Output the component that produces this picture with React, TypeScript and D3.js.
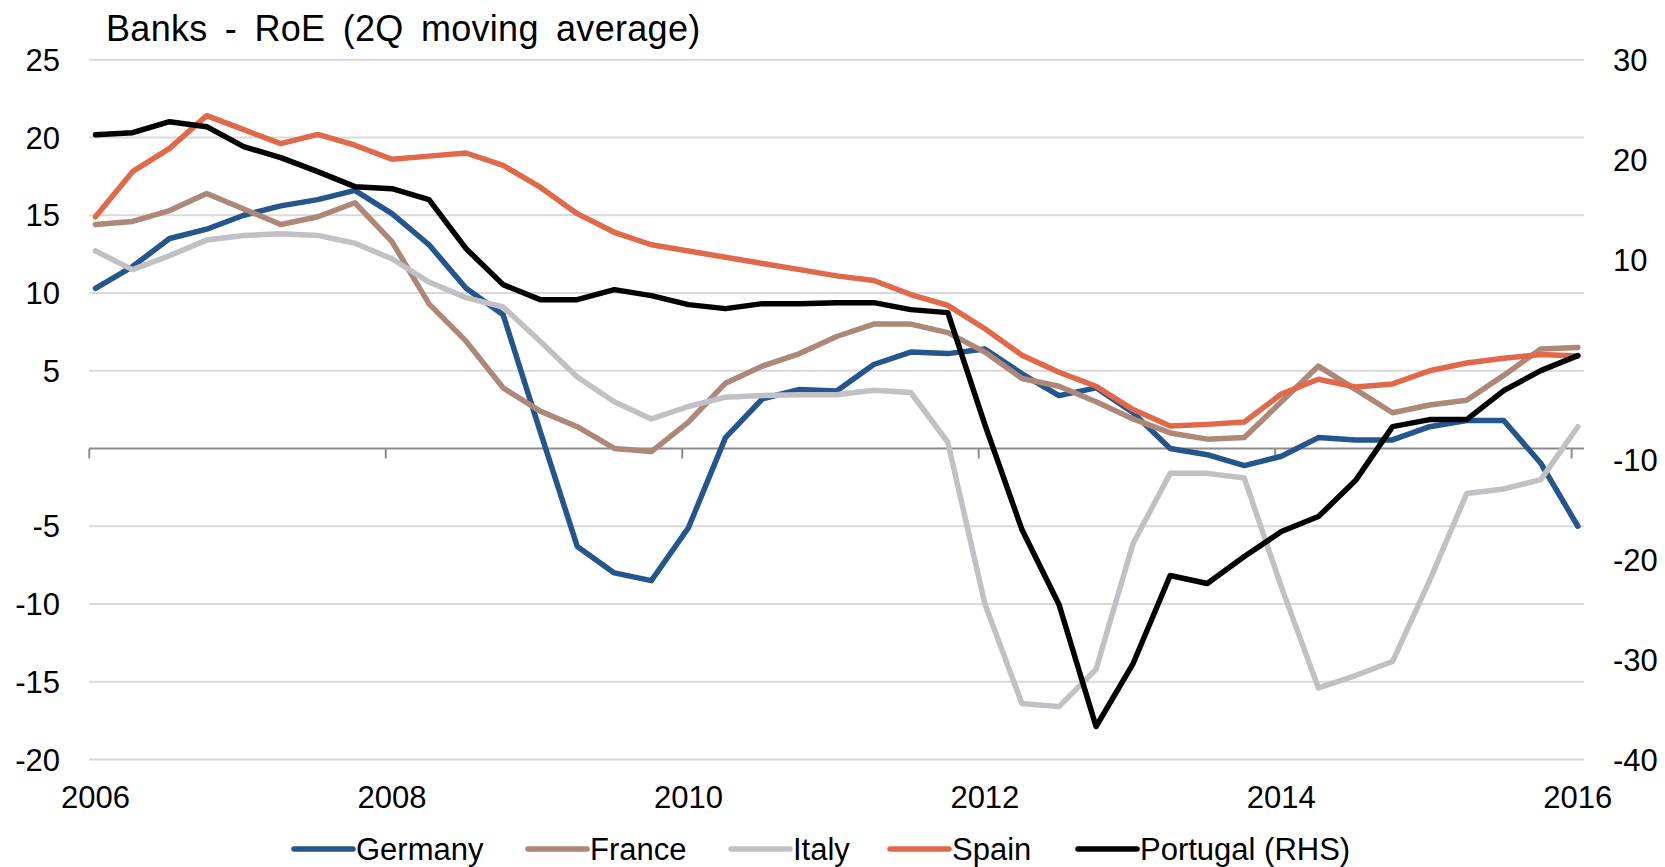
import React from "react";
import * as d3 from "d3";

const quarters = [
  "2006Q1","2006Q2","2006Q3","2006Q4","2007Q1","2007Q2","2007Q3","2007Q4",
  "2008Q1","2008Q2","2008Q3","2008Q4","2009Q1","2009Q2","2009Q3","2009Q4",
  "2010Q1","2010Q2","2010Q3","2010Q4","2011Q1","2011Q2","2011Q3","2011Q4",
  "2012Q1","2012Q2","2012Q3","2012Q4","2013Q1","2013Q2","2013Q3","2013Q4",
  "2014Q1","2014Q2","2014Q3","2014Q4","2015Q1","2015Q2","2015Q3","2015Q4",
  "2016Q1",
];

const germany = [10.3, 11.7, 13.5, 14.1, 15.0, 15.6, 16.0, 16.6, 15.1, 13.1, 10.3, 8.6, 1.1, -6.3, -8.0, -8.5, -5.1, 0.7, 3.2, 3.8, 3.7, 5.4, 6.2, 6.1, 6.4, 4.8, 3.4, 3.9, 2.3, 0.0, -0.4, -1.1, -0.5, 0.7, 0.55, 0.55, 1.4, 1.8, 1.8, -0.95, -5.0];
const france = [14.4, 14.6, 15.3, 16.4, 15.4, 14.4, 14.9, 15.8, 13.3, 9.3, 6.9, 3.9, 2.4, 1.4, 0.0, -0.2, 1.7, 4.2, 5.3, 6.1, 7.2, 8.0, 8.0, 7.45, 6.2, 4.5, 4.0, 3.0, 1.9, 1.0, 0.6, 0.7, 3.0, 5.3, 3.8, 2.3, 2.8, 3.1, 4.7, 6.4, 6.5];
const italy = [12.7, 11.5, 12.4, 13.4, 13.7, 13.8, 13.7, 13.2, 12.2, 10.7, 9.7, 9.1, 6.9, 4.6, 3.0, 1.9, 2.7, 3.3, 3.4, 3.45, 3.45, 3.75, 3.6, 0.4, -10.0, -16.4, -16.6, -14.2, -6.1, -1.6, -1.6, -1.9, -8.9, -15.4, -14.6, -13.7, -8.5, -2.9, -2.6, -2.0, 1.4];
const spain = [14.9, 17.8, 19.3, 21.4, 20.5, 19.6, 20.2, 19.5, 18.6, 18.8, 19.0, 18.2, 16.8, 15.1, 13.9, 13.1, 12.7, 12.3, 11.9, 11.5, 11.1, 10.8, 9.9, 9.2, 7.7, 6.0, 4.9, 4.0, 2.5, 1.45, 1.55, 1.7, 3.5, 4.45, 3.95, 4.15, 5.0, 5.5, 5.8, 6.05, 5.95];
const portugal = [22.5, 22.7, 23.8, 23.3, 21.3, 20.2, 18.8, 17.3, 17.1, 16.0, 11.1, 7.5, 6.0, 6.0, 7.0, 6.4, 5.5, 5.1, 5.6, 5.6, 5.7, 5.7, 5.0, 4.7, -6.5, -17.0, -24.5, -36.7, -30.4, -21.6, -22.4, -19.7, -17.2, -15.7, -12.1, -6.7, -6.0, -6.0, -3.1, -1.1, 0.4];

const leftTicks = [25, 20, 15, 10, 5, 0, -5, -10, -15, -20];
const rightTicks = [30, 20, 10, 0, -10, -20, -30, -40];
const yearLabels = ["2006", "2008", "2010", "2012", "2014", "2016"];

const seriesNames = ["Germany", "France", "Italy", "Spain", "Portugal (RHS)"];
const colors = ["#24568D", "#AD8878", "#C0C0C5", "#E0694A", "#000000"];

const W = 1665;
const H = 867;
const FONT = "'Liberation Sans', Arial, sans-serif";

// month index of the first month of a quarter, relative to Jan 2006
const monthIndex = (q: string) => (parseInt(q.slice(0, 4)) - 2006) * 12 + (parseInt(q.slice(5)) - 1) * 3;

export default function App() {
  const x = d3.scaleLinear().domain([0, 121]).range([89.3, 1584]);
  const yL = d3.scaleLinear().domain([-20, 25]).range([759.5, 59.7]);
  const yR = d3.scaleLinear().domain([-40, 30]).range([759.5, 59.7]);

  const px = (i: number) => x(monthIndex(quarters[i]) + 0.5);
  const lineL = d3.line<number>().x((_, i) => px(i)).y((d) => yL(d));
  const lineR = d3.line<number>().x((_, i) => px(i)).y((d) => yR(d));

  const data = [germany, france, italy, spain, portugal];

  const legendX = [294, 528, 731, 890, 1078];

  return (
    <div style={{ position: "absolute", left: 0, top: 0 }}>
      <svg width={W} height={H} style={{ display: "block", background: "#fff" }}>
        <text x={106} y={41} fontFamily={FONT} fontSize={36} wordSpacing={7} letterSpacing={0.3} fill="#000">
          Banks - RoE (2Q moving average)
        </text>
        {leftTicks.filter((t) => t !== 0).map((t) => (
          <line key={"g" + t} x1={89.3} x2={1584} y1={yL(t)} y2={yL(t)} stroke="#D9D9D9" strokeWidth={2} />
        ))}
        <line x1={89.3} x2={1584} y1={yL(0)} y2={yL(0)} stroke="#8C8C8C" strokeWidth={2} />
        {yearLabels.map((yl) => {
          const m = (parseInt(yl) - 2006) * 12;
          return (
            <line key={"t" + yl} x1={x(m)} x2={x(m)} y1={yL(0)} y2={yL(0) + 10} stroke="#8C8C8C" strokeWidth={2} />
          );
        })}
        {leftTicks.map((t) => (
          <text key={"l" + t} x={60} y={yL(t)} dy="0.36em" textAnchor="end" fontFamily={FONT} fontSize={31} fill="#000">
            {t === 0 ? "" : String(t)}
          </text>
        ))}
        {rightTicks.map((t) => (
          <text key={"r" + t} x={1613} y={yR(t)} dy="0.36em" textAnchor="start" fontFamily={FONT} fontSize={31} fill="#000">
            {t === 0 ? "" : String(t)}
          </text>
        ))}
        {yearLabels.map((yl) => {
          const m = (parseInt(yl) - 2006) * 12 + 0.5;
          return (
            <text key={"x" + yl} x={x(m)} y={808} textAnchor="middle" fontFamily={FONT} fontSize={31} fill="#000">
              {yl}
            </text>
          );
        })}
        {data.map((d, k) => (
          <path
            key={"s" + k}
            d={(k === 4 ? lineR : lineL)(d) || ""}
            fill="none"
            stroke={colors[k]}
            strokeWidth={5.5}
            strokeLinejoin="round"
            strokeLinecap="round"
          />
        ))}
        {seriesNames.map((n, k) => (
          <g key={"lg" + k}>
            <line x1={legendX[k]} x2={legendX[k] + 59} y1={849} y2={849} stroke={colors[k]} strokeWidth={5.5} strokeLinecap="round" />
            <text x={legendX[k] + 62} y={860} fontFamily={FONT} fontSize={31} fill="#000">
              {n}
            </text>
          </g>
        ))}
      </svg>
    </div>
  );
}
